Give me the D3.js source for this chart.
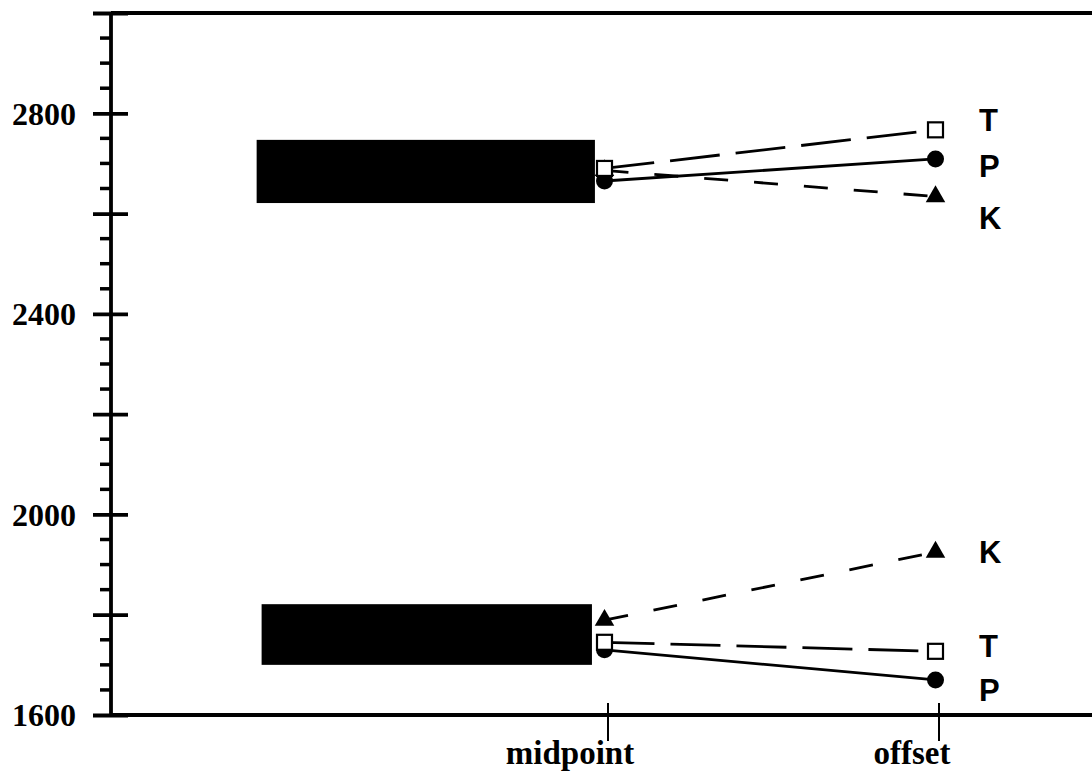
<!DOCTYPE html>
<html>
<head>
<meta charset="utf-8">
<script src="https://cdn.jsdelivr.net/npm/d3@7"></script>
<style>
  body { margin: 0; background: #fff; }
  svg { display: block; }
</style>
</head>
<body>
<svg id="chart" width="1092" height="773"></svg>
<script>
// ---- data ----
const categories = ["midpoint", "offset"];
const categoryPos = [1, 2];

// upper cluster (values at midpoint, offset)
const upperT = [2690, 2767];
const upperP = [2665, 2709];
const upperK = [2686, 2634];
// lower cluster
const lowerT = [1745, 1727];
const lowerP = [1730, 1670];
const lowerK = [1789, 1925];

// shaded ranges: [low, high] values and [start, end] along the x scale
const upperRange = [2621, 2747];
const upperRangeSpan = [-0.06, 0.962];
const lowerRange = [1700, 1821];
const lowerRangeSpan = [-0.045, 0.953];

// end-of-line label anchors (value units)
const upperLabels = [["T", 2787], ["P", 2695], ["K", 2592]];
const lowerLabels = [["K", 1925], ["T", 1738], ["P", 1650]];

const yLabelTicks = [1600, 2000, 2400, 2800];
const yMajorTicks = [1600, 1800, 2000, 2200, 2400, 2600, 2800, 3000];

// ---- layout ----
const svg = d3.select("#chart");
const plotLeft = 111, plotBottom = 715, plotTop = 13, plotRight = 1092;

const y = d3.scaleLinear().domain([1600, 3000]).range([plotBottom, plotTop]);
const x = d3.scaleLinear().domain([-0.5, 2.5]).range([plotLeft, plotLeft + 3 * 331]);

// shaded ranges
const ranges = [[upperRange, upperRangeSpan], [lowerRange, lowerRangeSpan]];
svg.append("g").selectAll("rect").data(ranges).join("rect")
  .attr("x", d => x(d[1][0]))
  .attr("width", d => x(d[1][1]) - x(d[1][0]))
  .attr("y", d => y(d[0][1]))
  .attr("height", d => y(d[0][0]) - y(d[0][1]))
  .attr("fill", "#000");

// ---- axes ----
// minor ticks every 50
const minor = d3.range(1600, 3001, 50).filter(v => v % 200 !== 0);
svg.append("g").selectAll("line").data(minor).join("line")
  .attr("x1", plotLeft - 11).attr("x2", plotLeft)
  .attr("y1", d => y(d)).attr("y2", d => y(d))
  .attr("stroke", "#000").attr("stroke-width", 3.5);

const yAxis = svg.append("g")
  .attr("transform", `translate(${plotLeft},0)`)
  .call(d3.axisLeft(y).tickValues(yMajorTicks).tickSize(18).tickPadding(17)
    .tickFormat(d => yLabelTicks.includes(d) ? d : ""));
yAxis.select(".domain").remove();
yAxis.selectAll(".tick line")
  .attr("x1", 17).attr("stroke", "#000").attr("stroke-width", 3.8);
yAxis.selectAll(".tick text")
  .attr("dy", "0.34em")
  .attr("font-family", "Liberation Serif, Times New Roman, serif")
  .attr("font-weight", "bold").attr("font-size", 32)
  .attr("fill", "#000");

// axis frame: left spine, bottom spine, top rule
svg.append("line").attr("x1", plotLeft).attr("x2", plotLeft).attr("y1", plotTop).attr("y2", plotBottom)
  .attr("stroke", "#000").attr("stroke-width", 3.8);
svg.append("line").attr("x1", plotLeft).attr("x2", plotRight).attr("y1", plotBottom).attr("y2", plotBottom)
  .attr("stroke", "#000").attr("stroke-width", 3.8);
svg.append("line").attr("x1", plotLeft).attr("x2", plotRight).attr("y1", plotTop).attr("y2", plotTop)
  .attr("stroke", "#000").attr("stroke-width", 3.8);

// x axis ticks crossing the baseline
const labelShift = [-38, -27];
const xAxis = svg.append("g")
  .attr("transform", `translate(0,${plotBottom})`)
  .call(d3.axisBottom(x).tickValues(categoryPos).tickSize(26).tickPadding(22)
    .tickFormat((d, i) => categories[i]));
xAxis.select(".domain").remove();
xAxis.selectAll(".tick line")
  .attr("y1", -12).attr("stroke", "#000").attr("stroke-width", 2);
xAxis.selectAll(".tick text")
  .attr("y", 49).attr("dy", 0)
  .attr("dx", (d, i) => labelShift[i])
  .attr("font-family", "Liberation Serif, Times New Roman, serif")
  .attr("font-weight", "bold").attr("font-size", 33)
  .attr("fill", "#000");

// ---- series ----
const styles = {
  T: { dash: "50,16" },
  P: { dash: null },
  K: { dash: "24,26" }
};
const clusters = [
  { T: upperT, P: upperP, K: upperK, labels: upperLabels },
  { T: lowerT, P: lowerP, K: lowerK, labels: lowerLabels }
];
const mx = i => x(categoryPos[i]) - 3;
const seriesLine = d3.line().x((d, i) => mx(i)).y(d => y(d));

clusters.forEach(c => {
  const g = svg.append("g");
  ["K", "T", "P"].forEach(s => {
    g.append("path")
      .attr("d", seriesLine(c[s]))
      .attr("fill", "none").attr("stroke", "#000").attr("stroke-width", 2.8)
      .attr("stroke-dasharray", styles[s].dash);
  });
  // markers: triangles, then circles, then open squares on top
  g.selectAll(".k").data(c.K).join("path").attr("class", "k")
    .attr("d", d3.symbol(d3.symbolTriangle, 165)())
    .attr("transform", (d, i) => `translate(${mx(i)},${y(d)})`)
    .attr("fill", "#000");
  g.selectAll(".p").data(c.P).join("circle").attr("class", "p")
    .attr("cx", (d, i) => mx(i)).attr("cy", d => y(d)).attr("r", 8.5)
    .attr("fill", "#000");
  g.selectAll(".t").data(c.T).join("rect").attr("class", "t")
    .attr("x", (d, i) => mx(i) - 7.5).attr("y", d => y(d) - 7.5)
    .attr("width", 15).attr("height", 15)
    .attr("fill", "#fff").attr("stroke", "#000").attr("stroke-width", 2.2);
  g.selectAll(".lab").data(c.labels).join("text").attr("class", "lab")
    .attr("x", 979).attr("y", d => y(d[1]))
    .attr("dy", "0.36em")
    .attr("font-family", "Liberation Sans, Arial, sans-serif")
    .attr("font-weight", "bold").attr("font-size", 31)
    .text(d => d[0]);
});
</script>
</body>
</html>
